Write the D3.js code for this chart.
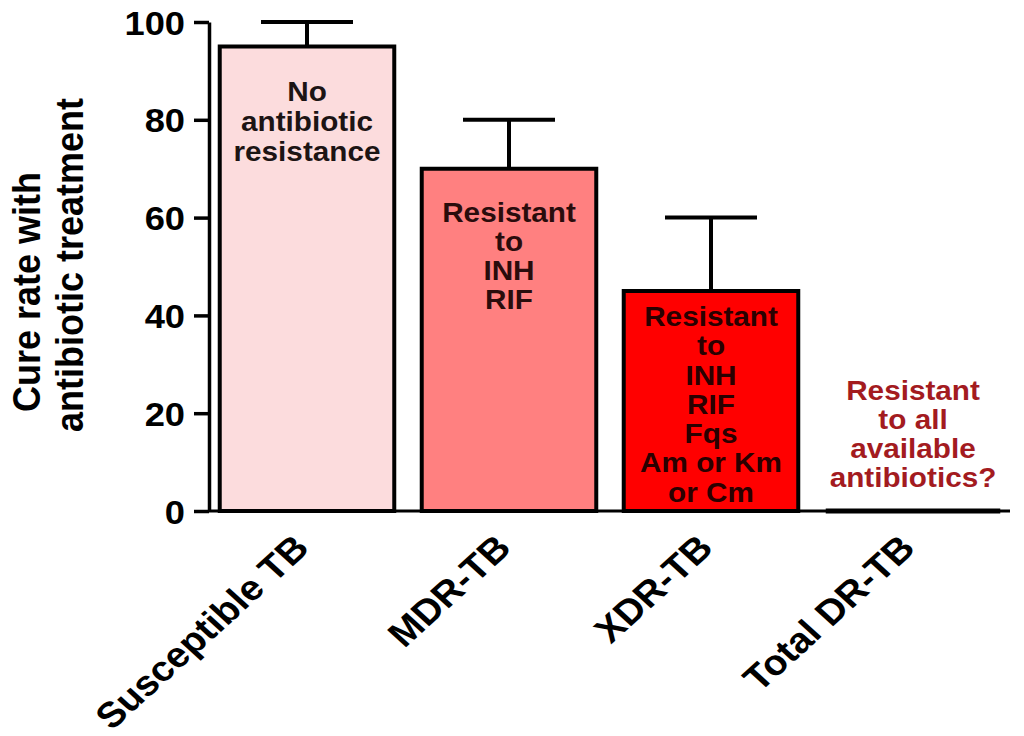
<!DOCTYPE html>
<html>
<head>
<meta charset="utf-8">
<script src="https://cdn.jsdelivr.net/npm/d3@7"></script>
<style>
  html, body { margin: 0; padding: 0; background: #ffffff; }
  svg { display: block; }
  text { font-family: "Liberation Sans", Arial, Helvetica, sans-serif; font-weight: bold; }
</style>
</head>
<body>
<svg id="chart" width="1024" height="736"></svg>
<script>
// ---- data ----
const categories = ["Susceptible TB", "MDR-TB", "XDR-TB", "Total DR-TB"];
const values = [95, 70, 45, 0];
const errorUpper = [100, 80, 60, null];
const barColors = ["#fcdcdd", "#ff8080", "#ff0000", "none"];
const barNotes = [
  ["No", "antibiotic", "resistance"],
  ["Resistant", "to", "INH", "RIF"],
  ["Resistant", "to", "INH", "RIF", "Fqs", "Am or Km", "or Cm"],
  ["Resistant", "to all", "available", "antibiotics?"]
];
const noteColors = ["#1c1414", "#2a0c0c", "#2a0000", "#a31b1f"];
const yTicks = [0, 20, 40, 60, 80, 100];
const yTitle = ["Cure rate with", "antibiotic treatment"];

// ---- layout ----
const sx = 1.1; // horizontal stretch of the original artwork
const svg = d3.select("#chart");
const axisX = 209;

const x = d3.scaleBand()
  .domain(categories)
  .range([206, 1014])
  .paddingInner(0.136)
  .paddingOuter(0.068);

const y = d3.scaleLinear().domain([0, 100]).range([511, 22]);

// x baseline
svg.append("line")
  .attr("x1", axisX).attr("x2", x.range()[1] - 4)
  .attr("y1", y(0)).attr("y2", y(0))
  .attr("stroke", "#000").attr("stroke-width", 3);

// error bars (drawn under bars)
const capHalf = 46;
const eb = svg.append("g").attr("stroke", "#000").attr("stroke-width", 4).attr("fill", "none");
categories.forEach((c, i) => {
  if (errorUpper[i] == null) return;
  const cx = x(c) + x.bandwidth() / 2;
  eb.append("line").attr("x1", cx).attr("x2", cx).attr("y1", y(values[i])).attr("y2", y(errorUpper[i]));
  eb.append("line").attr("x1", cx - capHalf).attr("x2", cx + capHalf).attr("y1", y(errorUpper[i])).attr("y2", y(errorUpper[i]));
});

// bars as closed paths (zero-height bar renders as a line)
svg.append("g").selectAll("path")
  .data(categories)
  .join("path")
  .attr("d", (c, i) => {
    const x0 = x(c), x1 = x(c) + x.bandwidth();
    const y0 = y(0), y1 = y(values[i]);
    return `M${x0},${y0}H${x1}V${y1}H${x0}Z`;
  })
  .attr("fill", (c, i) => barColors[i])
  .attr("stroke", "#000")
  .attr("stroke-width", (c, i) => values[i] === 0 ? 5 : 4)
  .attr("stroke-linejoin", "miter");

// notes inside / above bars
const noteFirstOffset = [55, 53, 35, null];
const noteLineGap = [30, 29, 29.3, 29];
categories.forEach((c, i) => {
  const cx = x(c) + x.bandwidth() / 2;
  const lines = barNotes[i];
  let first;
  if (noteFirstOffset[i] == null) {
    first = y(values[i]) - 24 - (lines.length - 1) * noteLineGap[i];
  } else {
    first = y(values[i]) + noteFirstOffset[i];
  }
  lines.forEach((t, k) => {
    svg.append("text")
      .attr("transform", `translate(${cx},${first + k * noteLineGap[i]}) scale(${sx},1)`)
      .attr("text-anchor", "middle")
      .attr("font-size", 27)
      .attr("fill", noteColors[i])
      .text(t);
  });
});

// y axis
const yAxis = svg.append("g")
  .attr("transform", `translate(${axisX},0)`)
  .call(d3.axisLeft(y).tickValues(yTicks).tickSize(15).tickSizeOuter(0).tickPadding(0).tickFormat(d3.format("d")));
yAxis.select(".domain").attr("stroke", "#000").attr("stroke-width", 3.5);
yAxis.selectAll(".tick line").attr("stroke", "#000").attr("stroke-width", 3.5);
yAxis.selectAll(".tick text")
  .attr("x", null).attr("dy", null)
  .attr("transform", `translate(-24,12) scale(${sx},1)`)
  .attr("font-size", 33)
  .attr("font-family", "'Liberation Sans', Arial, sans-serif")
  .attr("font-weight", "bold")
  .attr("fill", "#000");

// y title
const titlePos = [[40, 292], [83, 265]];
yTitle.forEach((t, k) => {
  svg.append("text")
    .attr("transform", `translate(${titlePos[k][0]},${titlePos[k][1]}) scale(${sx},1) rotate(-90)`)
    .attr("text-anchor", "middle")
    .attr("font-size", 36)
    .attr("fill", "#000")
    .text(t);
});

// category labels
svg.append("g").selectAll("text")
  .data(categories)
  .join("text")
  .attr("transform", c => `translate(${x(c) + x.bandwidth() / 2 + 4},${y(0) + 39}) scale(${sx},1) rotate(-45)`)
  .attr("text-anchor", "end")
  .attr("font-size", 35.5)
  .attr("fill", "#000")
  .text(c => c);
</script>
</body>
</html>
